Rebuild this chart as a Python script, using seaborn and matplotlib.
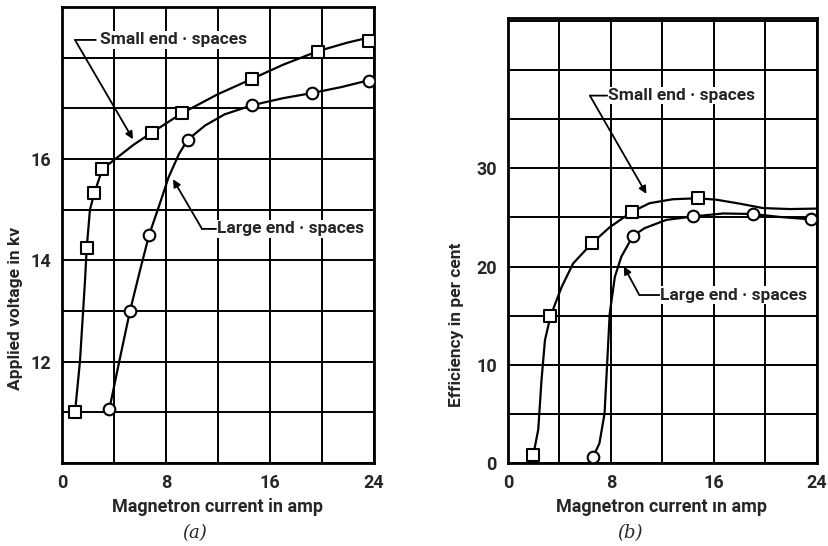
import numpy as np
import pandas as pd
import matplotlib
matplotlib.use("Agg")
import matplotlib.pyplot as plt
import seaborn as sns

# ---------------- data ----------------
# panel (a): applied voltage (kV) vs magnetron current (amp)
a_small_x = [1.0, 1.9, 2.48, 3.1, 6.9, 9.2, 14.6, 19.7, 23.6]
a_small_y = [11.0, 14.24, 15.32, 15.8, 16.52, 16.9, 17.58, 18.12, 18.32]
a_large_x = [3.64, 5.23, 6.7, 9.67, 14.6, 19.2, 23.6]
a_large_y = [11.06, 13.0, 14.5, 16.38, 17.06, 17.3, 17.54]
# drawn (hand-faired) curves
a_small_cx = [1.0, 1.38, 1.77, 1.9, 2.15, 2.48, 3.1, 4.1, 5.5, 6.9, 9.2, 12.0, 14.6, 17.0, 19.7, 22.0, 24.0]
a_small_cy = [11.0, 12.0, 13.6, 14.24, 15.0, 15.32, 15.8, 16.0, 16.28, 16.52, 16.9, 17.28, 17.58, 17.86, 18.13, 18.3, 18.42]
a_large_cx = [3.64, 4.4, 5.23, 6.0, 6.7, 7.5, 8.2, 9.0, 9.67, 11.0, 12.5, 14.6, 17.0, 19.2, 21.5, 24.0]
a_large_cy = [11.06, 12.0, 13.0, 13.8, 14.5, 15.1, 15.64, 16.1, 16.38, 16.66, 16.88, 17.06, 17.2, 17.3, 17.42, 17.58]

# panel (b): efficiency (per cent) vs magnetron current (amp)
b_small_x = [1.96, 3.3, 6.5, 9.6, 14.75]
b_small_y = [0.8, 14.95, 22.35, 25.55, 26.95]
b_large_x = [6.6, 9.7, 14.4, 19.0, 23.5]
b_large_y = [0.6, 23.1, 25.1, 25.35, 24.8]
b_small_cx = [1.45, 1.96, 2.35, 2.6, 2.87, 3.3, 4.16, 5.05, 6.5, 7.9, 9.6, 11.0, 12.8, 14.75, 16.2, 18.0, 19.8, 21.9, 24.0]
b_small_cy = [0.0, 0.8, 3.4, 8.4, 12.5, 14.95, 17.9, 20.3, 22.35, 24.0, 25.55, 26.45, 26.85, 26.95, 26.8, 26.4, 25.95, 25.85, 25.9]
b_large_cx = [6.6, 7.1, 7.5, 7.7, 7.9, 8.3, 8.8, 9.7, 10.6, 12.3, 14.4, 16.7, 19.0, 21.1, 23.5]
b_large_cy = [0.6, 2.0, 5.05, 10.1, 15.2, 18.95, 21.0, 23.1, 23.9, 24.75, 25.1, 25.4, 25.35, 25.05, 24.8]

x_ticks = [0, 8, 16, 24]
a_yticks = [12, 14, 16]
b_yticks = [0, 10, 20, 30]

# ---------------- style ----------------
sns.set_style("white")
plt.rcParams['font.family'] = ['Roboto', 'DejaVu Sans']
WT = 'bold'

fig = plt.figure(figsize=(8.29, 5.46), dpi=100)
fig.patch.set_facecolor("white")
W, H = 829, 546
def pos(x0, x1, y0, y1):
    return [x0 / W, 1 - y1 / H, (x1 - x0) / W, (y1 - y0) / H]

axA = fig.add_axes(pos(62, 374, 7, 463))
axB = fig.add_axes(pos(508, 817, 18, 463))

def style_axis(ax, xlim, ylim, xgrid, ygrid, yticks):
    ax.set_xlim(*xlim)
    ax.set_ylim(*ylim)
    ax.set_xticks(xgrid, minor=True)
    ax.set_yticks(ygrid, minor=True)
    ax.set_xticks(x_ticks)
    ax.set_yticks(yticks)
    ax.set_xticklabels([str(t) for t in x_ticks], fontsize=13, fontweight=WT)
    ax.set_yticklabels([str(t) for t in yticks], fontsize=13, fontweight=WT)
    ax.grid(True, which='both', color='black', lw=1.4)
    ax.tick_params(which='both', length=0, pad=8)
    for s in ax.spines.values():
        s.set_color('black')
        s.set_linewidth(2.0)
        s.set_visible(True)
    ax.set_axisbelow(True)

style_axis(axA, (0, 24), (10, 19), np.arange(0, 25, 4), np.arange(10, 19.5, 1), a_yticks)
style_axis(axB, (0, 24), (0, 45.3), np.arange(0, 25, 4), np.arange(0, 45.5, 5), b_yticks)

def draw(ax, cx, cy, mx, my, marker):
    df_c = pd.DataFrame({"x": cx, "y": cy})
    sns.lineplot(data=df_c, x="x", y="y", sort=False, estimator=None, color='black', lw=1.6, ax=ax, zorder=3)
    df_m = pd.DataFrame({"x": mx, "y": my})
    sns.scatterplot(data=df_m, x="x", y="y", marker=marker, s=70, facecolor='white',
                    edgecolor='black', linewidth=1.5, ax=ax, zorder=4)

draw(axA, a_small_cx, a_small_cy, a_small_x, a_small_y, 's')
draw(axA, a_large_cx, a_large_cy, a_large_x, a_large_y, 'o')
draw(axB, b_small_cx, b_small_cy, b_small_x, b_small_y, 's')
draw(axB, b_large_cx, b_large_cy, b_large_x, b_large_y, 'o')

for ax in (axA, axB):
    ax.set_xlabel("")
    ax.set_ylabel("")

def label(ax, text, tx, ty, dash_x0, dash_x1, tip):
    ax.text(tx, ty, text, fontsize=12.5, va='center', ha='left', fontweight=WT,
            bbox=dict(facecolor='white', edgecolor='none', pad=1), zorder=5)
    ax.annotate("", xy=(dash_x1, ty), xytext=(dash_x0, ty),
                arrowprops=dict(arrowstyle='-', lw=1.3, color='black', shrinkA=0, shrinkB=0), zorder=5)
    ax.annotate("", xy=tip, xytext=(dash_x0, ty),
                arrowprops=dict(arrowstyle='-|>', lw=1.3, color='black', shrinkA=0, shrinkB=0,
                                mutation_scale=11), zorder=5)

label(axA, "Small end · spaces", 2.9, 18.35, 1.0, 2.6, (5.46, 16.39))
label(axA, "Large end · spaces", 11.9, 14.62, 10.77, 11.85, (8.54, 15.6))
label(axB, "Small end · spaces", 7.75, 37.4, 6.36, 7.7, (10.75, 27.4))
label(axB, "Large end · spaces", 11.8, 17.1, 10.2, 11.75, (9.0, 20.0))

# axis titles
fig.text(218 / W, 1 - 507 / H, "Magnetron current in amp", ha='center', va='center', fontsize=13, fontweight=WT)
fig.text(662 / W, 1 - 507 / H, "Magnetron current ın amp", ha='center', va='center', fontsize=13, fontweight=WT)
fig.text(16 / W, 1 - 308 / H, "Applied voltage in kv", rotation=90, ha='center', va='center', fontsize=12.5, fontweight=WT)
fig.text(457 / W, 1 - 325 / H, "Efficiency in per cent", rotation=90, ha='center', va='center', fontsize=12.5, fontweight=WT)
fig.text(195 / W, 1 - 533 / H, "(a)", ha='center', va='center', fontsize=13, family='DejaVu Serif', style='italic')
fig.text(630 / W, 1 - 533 / H, "(b)", ha='center', va='center', fontsize=13, family='DejaVu Serif', style='italic')

fig.savefig("out.png", dpi=100, facecolor='white')
